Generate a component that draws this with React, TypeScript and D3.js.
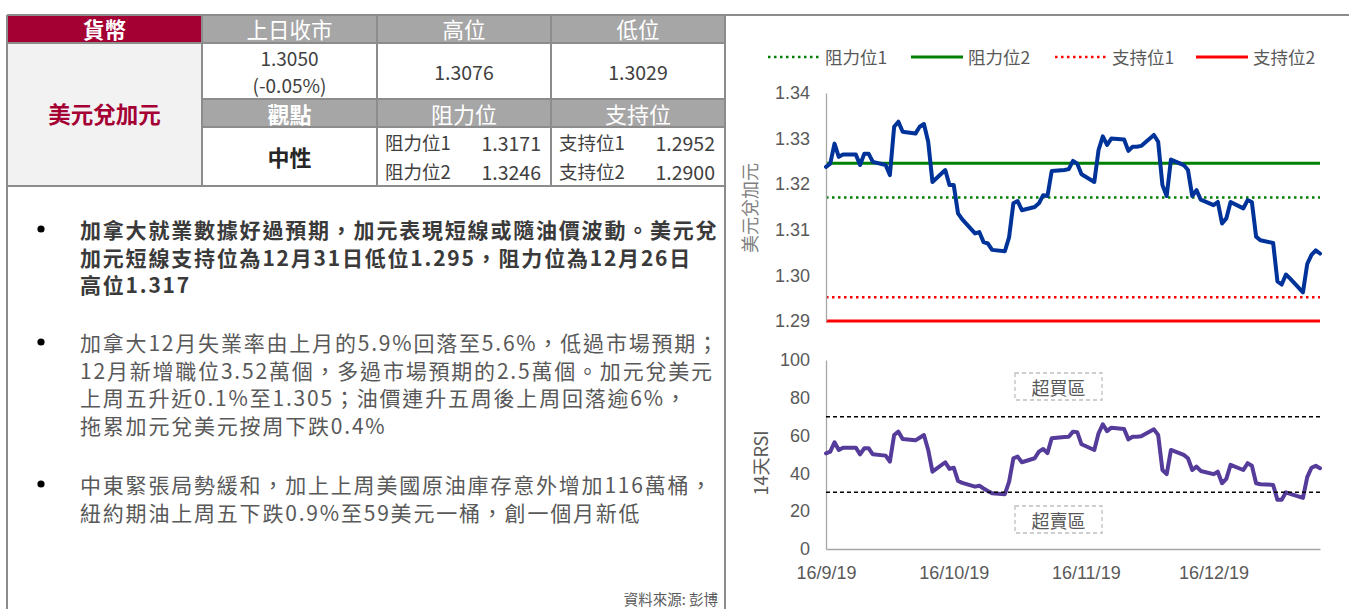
import { useEffect, useRef } from "react";
import * as d3 from "d3";

// trading days (vertices of the two lines)
const DATES = [
  "2019-09-16", "2019-09-17", "2019-09-18", "2019-09-19", "2019-09-20",
  "2019-09-23", "2019-09-24", "2019-09-25", "2019-09-26", "2019-09-27",
  "2019-09-30", "2019-10-01", "2019-10-02", "2019-10-03", "2019-10-04",
  "2019-10-07", "2019-10-08", "2019-10-09", "2019-10-10", "2019-10-11",
  "2019-10-14", "2019-10-15", "2019-10-16", "2019-10-17", "2019-10-18",
  "2019-10-21", "2019-10-22", "2019-10-23", "2019-10-24", "2019-10-25",
  "2019-10-28", "2019-10-29", "2019-10-30", "2019-10-31", "2019-11-01",
  "2019-11-04", "2019-11-05", "2019-11-06", "2019-11-07", "2019-11-08",
  "2019-11-11", "2019-11-12", "2019-11-13", "2019-11-14", "2019-11-15",
  "2019-11-18", "2019-11-19", "2019-11-20", "2019-11-21", "2019-11-22",
  "2019-11-25", "2019-11-26", "2019-11-27", "2019-11-28", "2019-11-29",
  "2019-12-02", "2019-12-03", "2019-12-04", "2019-12-05", "2019-12-06",
  "2019-12-09", "2019-12-10", "2019-12-11", "2019-12-12", "2019-12-13",
  "2019-12-16", "2019-12-17", "2019-12-18", "2019-12-19", "2019-12-20",
  "2019-12-23", "2019-12-24", "2019-12-25", "2019-12-26", "2019-12-27",
  "2019-12-30", "2019-12-31", "2020-01-01", "2020-01-02", "2020-01-03",
  "2020-01-06", "2020-01-07", "2020-01-08", "2020-01-09", "2020-01-10",
];

const USDCAD = [
  1.3238, 1.3245, 1.3289, 1.3260, 1.3265,
  1.3265, 1.3242, 1.3267, 1.3267, 1.3249,
  1.3242, 1.3220, 1.3326, 1.3337, 1.3315,
  1.3311, 1.3326, 1.3332, 1.3293, 1.3205,
  1.3231, 1.3198, 1.3198, 1.3136, 1.3123,
  1.3092, 1.3095, 1.3073, 1.3070, 1.3056,
  1.3053, 1.3084, 1.3158, 1.3163, 1.3143,
  1.3150, 1.3158, 1.3176, 1.3174, 1.3229,
  1.3231, 1.3233, 1.3251, 1.3245, 1.3222,
  1.3205, 1.3275, 1.3305, 1.3286, 1.3300,
  1.3298, 1.3273, 1.3282, 1.3282, 1.3284,
  1.3308, 1.3293, 1.3198, 1.3174, 1.3254,
  1.3242, 1.3231, 1.3174, 1.3187, 1.3166,
  1.3154, 1.3161, 1.3114, 1.3125, 1.3161,
  1.3147, 1.3165, 1.3161, 1.3085, 1.3077,
  1.3071, 1.2987, 1.2980, 1.3002, 1.2993,
  1.2963, 1.3025, 1.3045, 1.3055, 1.3048,
];

const RSI14 = [
  50.6, 51.5, 56.5, 52.4, 53.6,
  53.6, 50.1, 53.3, 53.3, 50.1,
  49.4, 46.2, 60.3, 62.1, 58.2,
  57.5, 58.9, 60.3, 52.4, 40.9,
  45.9, 42.4, 43.0, 36.0, 35.0,
  33.0, 33.5, 32.0, 30.7, 29.5,
  29.0, 35.6, 48.0, 48.9, 45.9,
  48.0, 51.5, 52.9, 50.7, 58.6,
  59.3, 59.4, 62.1, 61.8, 55.4,
  52.4, 61.2, 66.0, 62.4, 64.2,
  63.5, 58.0, 59.4, 59.4, 59.6,
  63.3, 60.3, 41.8, 39.6, 52.4,
  49.8, 48.0, 41.8, 43.6, 41.3,
  39.6, 40.9, 34.8, 37.1, 44.5,
  41.8, 45.4, 44.1, 34.8, 34.3,
  33.9, 26.0, 26.0, 30.0, 29.2,
  27.0, 38.0, 43.0, 44.0, 42.7,
];

const RESIST = [1.3171, 1.3246];
const SUPPORT = [1.2952, 1.29];
const RESIST_LABELS = ["阻力位1", "阻力位2"];
const SUPPORT_LABELS = ["支持位1", "支持位2"];
const RSI_BANDS = [70, 30];
const PRICE_TICKS = [1.29, 1.3, 1.31, 1.32, 1.33, 1.34];
const RSI_TICKS = [0, 20, 40, 60, 80, 100];
const X_TICKS = ["2019-09-16", "2019-10-16", "2019-11-16", "2019-12-16"];

const HEAD1 = ["貨幣", "上日收市", "高位", "低位"];
const HEAD2 = ["觀點", "阻力位", "支持位"];
const PAIR = "美元兌加元";
const LAST_CLOSE = "1.3050";
const LAST_CHANGE = "(-0.05%)";
const DAY_HIGH = "1.3076";
const DAY_LOW = "1.3029";
const VIEW = "中性";

const BULLETS = [
  [
    "加拿大就業數據好過預期，加元表現短線或隨油價波動。美元兌",
    "加元短線支持位為12月31日低位1.295，阻力位為12月26日",
    "高位1.317",
  ],
  [
    "加拿大12月失業率由上月的5.9%回落至5.6%，低過市場預期；",
    "12月新增職位3.52萬個，多過市場預期的2.5萬個。加元兌美元",
    "上周五升近0.1%至1.305；油價連升五周後上周回落逾6%，",
    "拖累加元兌美元按周下跌0.4%",
  ],
  [
    "中東緊張局勢緩和，加上上周美國原油庫存意外增加116萬桶，",
    "紐約期油上周五下跌0.9%至59美元一桶，創一個月新低",
  ],
];
const SOURCE = "資料來源: 彭博";

const CJK = "'Noto Sans CJK TC', 'Noto Sans', sans-serif";
const LATIN = "'Liberation Sans', Arial, sans-serif";
const BORDER = "#8c8c8c";
const CRIMSON = "#a50034";
const HEADGRAY = "#a6a6a6";

function Table() {
  const cols = [7, 202, 377, 551, 725];
  const rows = [15, 43, 99, 127, 186];
  const cx = (i: number) => (cols[i] + cols[i + 1]) / 2;
  const txt = {
    fontFamily: CJK,
    dominantBaseline: "central" as const,
  };
  return (
    <g>
      {HEAD1.map((h, i) => (
        <g key={h}>
          <rect x={cols[i]} y={rows[0]} width={cols[i + 1] - cols[i]} height={rows[1] - rows[0]}
            fill={i === 0 ? CRIMSON : HEADGRAY} />
          <text x={cx(i)} y={28.5} textAnchor="middle" fill="#fff" fontSize={21.5} fontWeight={i === 0 ? 700 : 400} {...txt}>{h}</text>
        </g>
      ))}
      <rect x={cols[0]} y={rows[1]} width={cols[1] - cols[0]} height={rows[4] - rows[1]} fill="#f2f2f2" />
      <text x={cx(0)} y={113} textAnchor="middle" fill={CRIMSON} fontSize={22.5} fontWeight={700} {...txt}>{PAIR}</text>
      <text x={cx(1)} y={57.5} textAnchor="middle" fill="#404040" fontSize={19} {...txt}>{LAST_CLOSE}</text>
      <text x={cx(1)} y={84.5} textAnchor="middle" fill="#404040" fontSize={19} {...txt}>{LAST_CHANGE}</text>
      <text x={cx(2)} y={71} textAnchor="middle" fill="#404040" fontSize={19.5} {...txt}>{DAY_HIGH}</text>
      <text x={cx(3)} y={71} textAnchor="middle" fill="#404040" fontSize={19.5} {...txt}>{DAY_LOW}</text>
      {HEAD2.map((h, i) => (
        <g key={h}>
          <rect x={cols[i + 1]} y={rows[2]} width={cols[i + 2] - cols[i + 1]} height={rows[3] - rows[2]} fill={HEADGRAY} />
          <text x={cx(i + 1)} y={113} textAnchor="middle" fill="#fff" fontSize={22} fontWeight={i === 0 ? 700 : 400} {...txt}>{h}</text>
        </g>
      ))}
      <text x={cx(1)} y={156} textAnchor="middle" fill="#262626" fontSize={22} fontWeight={700} {...txt}>{VIEW}</text>
      {RESIST.map((v, i) => (
        <g key={"r" + i}>
          <text x={cols[2] + 8} y={142 + i * 29} fill="#404040" fontSize={18.5} {...txt}>{RESIST_LABELS[i]}</text>
          <text x={cols[3] - 10} y={142 + i * 29} textAnchor="end" fill="#404040" fontSize={19.5} {...txt}>{v.toFixed(4)}</text>
        </g>
      ))}
      {SUPPORT.map((v, i) => (
        <g key={"s" + i}>
          <text x={cols[3] + 8} y={142 + i * 29} fill="#404040" fontSize={18.5} {...txt}>{SUPPORT_LABELS[i]}</text>
          <text x={cols[4] - 10} y={142 + i * 29} textAnchor="end" fill="#404040" fontSize={19.5} {...txt}>{v.toFixed(4)}</text>
        </g>
      ))}
      {/* grid */}
      <g stroke={BORDER} strokeWidth={2} fill="none">
        <line x1={cols[0]} x2={cols[4]} y1={rows[0]} y2={rows[0]} />
        <line x1={cols[0]} x2={cols[4]} y1={rows[1]} y2={rows[1]} />
        <line x1={cols[1]} x2={cols[4]} y1={rows[2]} y2={rows[2]} />
        <line x1={cols[1]} x2={cols[4]} y1={rows[3]} y2={rows[3]} />
        <line x1={cols[0]} x2={cols[4]} y1={rows[4]} y2={rows[4]} />
        <line x1={cols[0]} x2={cols[0]} y1={rows[0]} y2={609} />
        <line x1={cols[1]} x2={cols[1]} y1={rows[0]} y2={rows[4]} />
        <line x1={cols[2]} x2={cols[2]} y1={rows[0]} y2={rows[4]} />
        <line x1={cols[3]} x2={cols[3]} y1={rows[0]} y2={rows[4]} />
        <line x1={cols[4]} x2={cols[4]} y1={rows[0]} y2={609} />
        <line x1={cols[4]} x2={1349} y1={rows[0]} y2={rows[0]} />
      </g>
    </g>
  );
}

function Notes() {
  const starts = [229, 342, 484];
  const lh = 27.5;
  return (
    <g fontFamily={CJK}>
      {BULLETS.map((lines, b) => (
        <g key={b}>
          <circle cx={41} cy={starts[b]} r={3.6} fill="#000" />
          {lines.map((s, i) => (
            <text key={i} x={80} y={starts[b] + i * lh} dominantBaseline="central"
              fontSize={21} letterSpacing={1.8} fontWeight={b === 0 ? 700 : 400}
              fill={b === 0 ? "#3a3a3a" : "#595959"}>{s}</text>
          ))}
        </g>
      ))}
      <text x={718} y={598} textAnchor="end" dominantBaseline="central" fontSize={14.5} fill="#595959">{SOURCE}</text>
    </g>
  );
}

function Charts() {
  const ref = useRef<SVGGElement | null>(null);

  useEffect(() => {
    if (!ref.current) return;
    const g = d3.select(ref.current);
    g.selectAll("*").remove();

    const parse = d3.utcParse("%Y-%m-%d");
    const dates = DATES.map((d) => parse(d) as Date);
    const x0 = 826, x1 = 1320;
    const x = d3.scaleUtc().domain([dates[0], dates[dates.length - 1]]).range([x0, x1]);
    const yP = d3.scaleLinear().domain([1.29, 1.34]).range([321, 93]);
    const yR = d3.scaleLinear().domain([0, 100]).range([549, 360]);

    const styleAxis = (sel: any) => {
      sel.select(".domain").attr("stroke", "#a6a6a6").attr("stroke-width", 1.3);
      sel.selectAll("text")
        .attr("fill", "#595959")
        .style("font-family", LATIN)
        .style("font-size", "18px");
    };

    // legend
    const legendX = [768, 911, 1055, 1196];
    const legendItems = [
      { label: RESIST_LABELS[0], color: "#008000", dotted: true },
      { label: RESIST_LABELS[1], color: "#008000", dotted: false },
      { label: SUPPORT_LABELS[0], color: "#ff0000", dotted: true },
      { label: SUPPORT_LABELS[1], color: "#ff0000", dotted: false },
    ];
    legendItems.forEach((it, i) => {
      const lx = legendX[i];
      g.append("line")
        .attr("x1", lx).attr("x2", lx + 52).attr("y1", 57).attr("y2", 57)
        .attr("stroke", it.color).attr("stroke-width", it.dotted ? 2.5 : 3)
        .attr("stroke-dasharray", it.dotted ? "2.5,3.5" : null);
      g.append("text")
        .attr("x", lx + 57).attr("y", 56)
        .attr("dominant-baseline", "central")
        .attr("fill", "#595959")
        .style("font-family", CJK).style("font-size", "17.5px")
        .text(it.label);
    });

    // price panel
    const levels = [
      { v: RESIST[1], color: "#008000", dotted: false },
      { v: RESIST[0], color: "#008000", dotted: true },
      { v: SUPPORT[0], color: "#ff0000", dotted: true },
      { v: SUPPORT[1], color: "#ff0000", dotted: false },
    ];
    g.append("g").selectAll("line").data(levels).join("line")
      .attr("x1", x0).attr("x2", x1)
      .attr("y1", (d) => yP(d.v)).attr("y2", (d) => yP(d.v))
      .attr("stroke", (d) => d.color)
      .attr("stroke-width", (d) => (d.dotted ? 2.5 : 3))
      .attr("stroke-dasharray", (d) => (d.dotted ? "2.5,3.5" : null));

    g.append("g")
      .attr("transform", `translate(${x0},0)`)
      .call(d3.axisLeft(yP).tickValues(PRICE_TICKS).tickFormat(d3.format(".2f")).tickSize(0).tickPadding(16))
      .call(styleAxis);

    const priceLine = d3.line<number>()
      .x((_, i) => x(dates[i]))
      .y((d) => yP(d));
    g.append("path")
      .attr("d", priceLine(USDCAD))
      .attr("fill", "none").attr("stroke", "#003399")
      .attr("stroke-width", 4).attr("stroke-linejoin", "round").attr("stroke-linecap", "round");

    g.append("text")
      .attr("transform", `translate(749,208) rotate(-90)`)
      .attr("text-anchor", "middle").attr("dominant-baseline", "central")
      .attr("fill", "#7f7f7f")
      .style("font-family", CJK).style("font-size", "18px")
      .text(PAIR);

    // RSI panel
    g.append("g")
      .attr("transform", `translate(${x0},0)`)
      .call(d3.axisLeft(yR).tickValues(RSI_TICKS).tickSize(0).tickPadding(16))
      .call(styleAxis);
    g.append("g")
      .attr("transform", `translate(0,${yR(0)})`)
      .call(d3.axisBottom(x).tickValues(X_TICKS.map((d) => parse(d) as Date))
        .tickFormat((d) => d3.utcFormat("%d/%-m/%y")(d as Date)).tickSize(0).tickPadding(17))
      .call(styleAxis);

    const rsiLine = d3.line<number>()
      .x((_, i) => x(dates[i]))
      .y((d) => yR(d));
    g.append("path")
      .attr("d", rsiLine(RSI14))
      .attr("fill", "none").attr("stroke", "#553c9a")
      .attr("stroke-width", 4).attr("stroke-linejoin", "round").attr("stroke-linecap", "round");

    g.append("g").selectAll("line").data(RSI_BANDS).join("line")
      .attr("x1", x0).attr("x2", x1)
      .attr("y1", (d) => yR(d)).attr("y2", (d) => yR(d))
      .attr("stroke", "#000").attr("stroke-width", 1.4)
      .attr("stroke-dasharray", "4,3");

    const boxes = [
      { label: "超買區", y: 373 },
      { label: "超賣區", y: 506 },
    ];
    boxes.forEach((b) => {
      g.append("rect")
        .attr("x", 1015).attr("y", b.y).attr("width", 87).attr("height", 27)
        .attr("fill", "#fff").attr("stroke", "#bfbfbf").attr("stroke-width", 1.3)
        .attr("stroke-dasharray", "4,3");
      g.append("text")
        .attr("x", 1058.5).attr("y", b.y + 13.5)
        .attr("text-anchor", "middle").attr("dominant-baseline", "central")
        .attr("fill", "#595959")
        .style("font-family", CJK).style("font-size", "18px")
        .text(b.label);
    });

    g.append("text")
      .attr("transform", `translate(760,463) rotate(-90)`)
      .attr("text-anchor", "middle").attr("dominant-baseline", "central")
      .attr("fill", "#595959")
      .style("font-family", CJK).style("font-size", "18px")
      .text("14天RSI");
  }, []);

  return <g ref={ref} />;
}

export default function App() {
  useEffect(() => {
    document.body.style.margin = "0";
    document.body.style.overflow = "hidden";
  }, []);
  return (
    <svg width={1349} height={609} style={{ position: "absolute", left: 0, top: 0, background: "#fff" }}>
      <rect width={1349} height={609} fill="#fff" />
      <Table />
      <Notes />
      <Charts />
    </svg>
  );
}
